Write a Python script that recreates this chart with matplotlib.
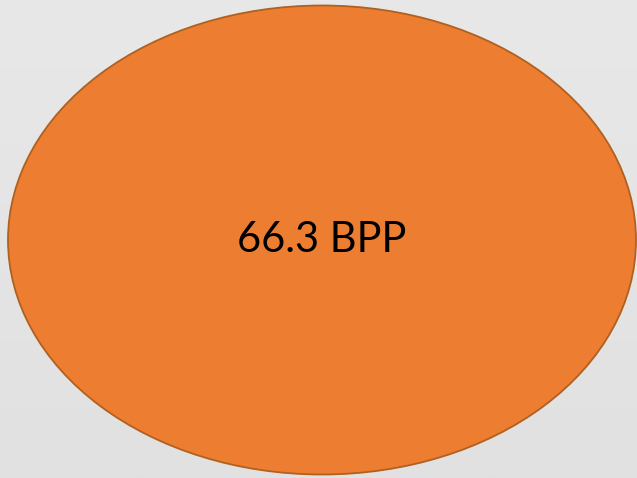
import matplotlib
matplotlib.use("Agg")
import matplotlib.pyplot as plt
from matplotlib.patches import Ellipse
from matplotlib.colors import LinearSegmentedColormap
import numpy as np

value = 66.3
unit = "BPP"
label = f"{value} {unit}"

W, H = 637, 478
fig = plt.figure(figsize=(W / 100, H / 100), dpi=100)
ax = fig.add_axes([0, 0, 1, 1])
ax.set_xlim(0, W)
ax.set_ylim(H, 0)
ax.axis("off")

# background with slight vertical gradient
grad = np.linspace(0, 1, 256).reshape(-1, 1)
cmap = LinearSegmentedColormap.from_list("bg", ["#e8e8e8", "#e1e1e1"])
ax.imshow(grad, extent=[0, W, H, 0], aspect="auto", cmap=cmap, zorder=0)

ell = Ellipse((322, 240), 628, 469, facecolor="#ED7D31", edgecolor="#B0601F",
              linewidth=1.3, zorder=1)
ax.add_patch(ell)

ax.text(322, 240, label, ha="center", va="center", fontsize=30,
        family=["Lato", "DejaVu Sans"], color="black", zorder=2)

fig.savefig("out.png", dpi=100)
